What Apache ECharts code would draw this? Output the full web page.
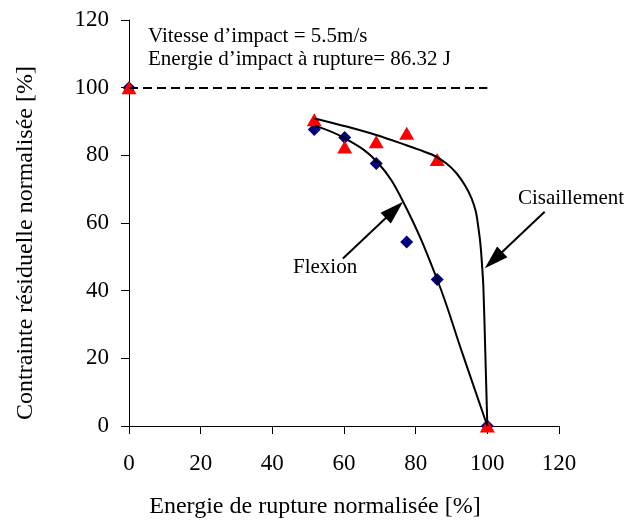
<!DOCTYPE html>
<html>
<head>
<meta charset="utf-8">
<script src="https://cdn.jsdelivr.net/npm/echarts@6/dist/echarts.min.js"></script>
<style>
html,body{margin:0;padding:0;background:#fff;}
#c{width:627px;height:522px;}
</style>
</head>
<body>
<div id="c"></div>
<script>
// Measured points
const energyX = [0, 51.7, 60.2, 69, 77.5, 86, 100];
const flexionY = [100, 87.6, 85.3, 77.6, 54.4, 43.3, 0];
const cisaillementY = [100, 90.5, 82.5, 84, 86.5, 78.8, 0];
// Trend curves
const flexCurveX = [52, 60.3, 69.2, 76.5, 86, 93, 100];
const flexCurveY = [88.7, 85, 78.1, 66.3, 43.3, 21.6, 0];
const cisCurveX = [51.8, 60.7, 69, 77.4, 81.1, 84.8, 88.6, 91.4, 93.7, 95.6, 96.8, 97.45, 98.05, 98.5, 98.9, 99.4, 100];
const cisCurveY = [90.9, 88.5, 86, 83, 81.6, 80.1, 77.6, 74.7, 71.2, 67.3, 63.3, 59, 54, 48, 41, 23, 0];
// Axis ticks
const axisMin = 0, axisMax = 120, axisStep = 20;

const zip = (xs, ys) => xs.map((x, i) => [x, ys[i]]);
const FONT = 'Liberation Serif';

const chart = echarts.init(document.getElementById('c'), null, {renderer: 'canvas'});
const option = {
  animation: false,
  backgroundColor: '#fff',
  grid: {left: 129, right: 68, top: 20, bottom: 96, containLabel: false},
  xAxis: {
    type: 'value', min: axisMin, max: axisMax, interval: axisStep,
    axisLine: {show: true, onZero: false, lineStyle: {color: '#000', width: 1}},
    axisTick: {show: true, inside: false, length: 8, lineStyle: {color: '#000'}},
    splitLine: {show: false},
    axisLabel: {color: '#000', fontFamily: FONT, fontSize: 23, margin: 26}
  },
  yAxis: {
    type: 'value', min: axisMin, max: axisMax, interval: axisStep,
    axisLine: {show: true, onZero: false, lineStyle: {color: '#000', width: 1}},
    axisTick: {show: true, inside: false, length: 8, lineStyle: {color: '#000'}},
    splitLine: {show: false},
    axisLabel: {color: '#000', fontFamily: FONT, fontSize: 23, margin: 20}
  },
  series: [
    {
      type: 'scatter', name: 'Flexion', data: zip(energyX, flexionY),
      symbol: 'diamond', symbolSize: [13, 13],
      itemStyle: {color: '#000080', opacity: 1}, z: 2
    },
    {
      type: 'scatter', name: 'Cisaillement', data: zip(energyX, cisaillementY),
      symbol: 'triangle', symbolSize: [15, 13],
      itemStyle: {color: '#ff0000', opacity: 1}, z: 2
    },
    {
      type: 'line', data: zip(flexCurveX, flexCurveY), smooth: 0.4,
      showSymbol: false, symbol: 'none', lineStyle: {color: '#000', width: 2}, z: 3,
      markLine: {
        silent: true, symbol: ['none', 'none'], animation: false,
        label: {show: false},
        lineStyle: {color: '#000', width: 2, type: [9, 5]},
        data: [[{coord: [0, 100]}, {coord: [100, 100]}]]
      }
    },
    {
      type: 'line', data: zip(cisCurveX, cisCurveY), smooth: 0.3,
      showSymbol: false, symbol: 'none', lineStyle: {color: '#000', width: 2}, z: 3
    }
  ]
};
chart.setOption(option);

function arrow(fromData, toData) {
  const a = chart.convertToPixel({gridIndex: 0}, fromData);
  const b = chart.convertToPixel({gridIndex: 0}, toData);
  const dx = b[0] - a[0], dy = b[1] - a[1];
  const len = Math.sqrt(dx * dx + dy * dy);
  const ux = dx / len, uy = dy / len;
  const L = 24, W = 7.5;
  const bx = b[0] - ux * L, by = b[1] - uy * L;
  return [
    {type: 'line', silent: true, z: 10,
     shape: {x1: a[0], y1: a[1], x2: bx + ux * 2, y2: by + uy * 2},
     style: {stroke: '#000', lineWidth: 2}},
    {type: 'polygon', silent: true, z: 10,
     shape: {points: [[b[0], b[1]], [bx - uy * W, by + ux * W], [bx + uy * W, by - ux * W]]},
     style: {fill: '#000'}}
  ];
}

const graphics = [
  {type: 'text', x: 148, y: 36, silent: true,
   style: {text: 'Vitesse d’impact = 5.5m/s', font: '21px "Liberation Serif"', fill: '#000', textAlign: 'left', textVerticalAlign: 'middle'}},
  {type: 'text', x: 148, y: 59, silent: true,
   style: {text: 'Energie d’impact à rupture= 86.32 J', font: '21px "Liberation Serif"', fill: '#000', textAlign: 'left', textVerticalAlign: 'middle'}},
  {type: 'text', x: 293, y: 267, silent: true,
   style: {text: 'Flexion', font: '21px "Liberation Serif"', fill: '#000', textAlign: 'left', textVerticalAlign: 'middle'}},
  {type: 'text', x: 518, y: 198, silent: true,
   style: {text: 'Cisaillement', font: '21px "Liberation Serif"', fill: '#000', textAlign: 'left', textVerticalAlign: 'middle'}},
  {type: 'text', x: 315, y: 507, silent: true,
   style: {text: 'Energie de rupture normalisée [%]', font: '24px "Liberation Serif"', fill: '#000', textAlign: 'center', textVerticalAlign: 'middle'}},
  {type: 'text', x: 26, y: 243, rotation: Math.PI / 2, silent: true,
   style: {text: 'Contrainte résiduelle normalisée [%]', font: '24px "Liberation Serif"', fill: '#000', textAlign: 'center', textVerticalAlign: 'middle'}}
].concat(arrow([59.7, 49.5], [76.5, 66.3]), arrow([116, 63.3], [99.3, 46.6]));

chart.setOption({graphic: graphics});
</script>
</body>
</html>
